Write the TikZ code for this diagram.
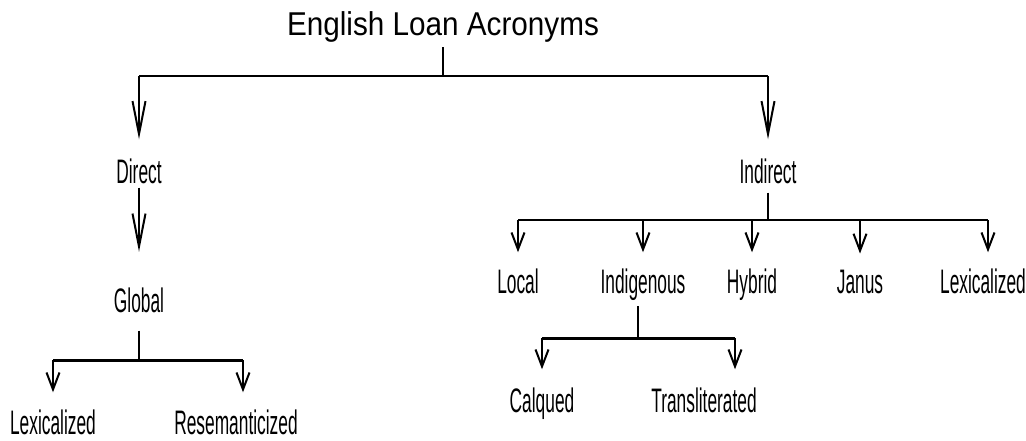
\documentclass[tikz,border=0pt]{standalone}
\usepackage{fontspec}
\setmainfont{Liberation Sans}
\newfontfamily\titlefont[FakeStretch=0.9]{Liberation Sans}
\newfontfamily\narrowfont[FakeStretch=0.51]{Liberation Sans}
\usetikzlibrary{arrows.meta}

\tikzset{
  heading/.style={font=\titlefont\fontsize{16.5}{17}\selectfont, inner sep=0pt, anchor=base},
  lab/.style={font=\narrowfont\fontsize{17}{17}\selectfont, inner sep=0pt, anchor=base},
  thin/.style={line width=1pt},
  thick/.style={line width=1.5pt},
  bigtip/.style={thin, -{Straight Barb[length=16.5pt,width=6.5pt]}},
  smalltip/.style={thin, -{Straight Barb[length=8.5pt,width=6.5pt]}}
}

\begin{document}
\begin{tikzpicture}[x=0.5pt,y=-0.5pt]
  \useasboundingbox (0,0) rectangle (1026,440);

  \node[heading] (elac) at (443,35) {English Loan Acronyms};

  \begin{scope}[every node/.style={lab}]
    \node (direct)   at (139,183) {Direct};
    \node (indirect) at (768,183) {Indirect};
    \node (global)   at (139,312) {Global};
    \node (lexa)     at (53,434)  {Lexicalized};
    \node (resem)    at (236,434) {Resemanticized};
    \node (local)    at (518,293) {Local};
    \node (indig)    at (643,293) {Indigenous};
    \node (hybrid)   at (752,293) {Hybrid};
    \node (janus)    at (860,293) {Janus};
    \node (lexb)     at (983,293) {Lexicalized};
    \node (calq)     at (542,412) {Calqued};
    \node (transl)   at (704,412) {Transliterated};
  \end{scope}

  % branch points
  \coordinate (top)   at (443,76);
  \coordinate (right) at (768,220);
  \coordinate (rightr) at (988,220);
  \coordinate (glob)  at (139,360);
  \coordinate (globr) at (243,360);
  \coordinate (indg)  at (638,338);
  \coordinate (indgr) at (735,338);

  % first level
  \draw[thin, shorten <=2.5pt] (elac.south) -- (top);
  \draw[thin] (direct |- top) -- (indirect |- top);
  \draw[bigtip, shorten >=9.35pt] (direct |- top) -- (direct.north);
  \draw[bigtip, shorten >=9.35pt] (indirect |- top) -- (indirect.north);

  % direct branch
  \draw[bigtip, shorten <=2pt, shorten >=17.6pt] (direct) -- (global);
  \draw[thin, shorten <=9pt] (global.south) -- (glob);
  \draw[thick] (lexa |- glob) -- (globr);
  \draw[smalltip, shorten >=8.35pt] (lexa |- glob) -- (lexa.north);
  \draw[smalltip, shorten >=8.35pt] (globr) -- (globr |- resem.north);

  % indirect branch
  \draw[thin, shorten <=4.5pt] (indirect.south) -- (right);
  \draw[thin] (local |- right) -- (rightr);
  \foreach \n in {local,indig,hybrid,janus}
    \draw[smalltip, shorten >=7.85pt] (\n |- right) -- (\n.north);
  \draw[smalltip, shorten >=7.85pt] (rightr) -- (rightr |- lexb.north);

  % indigenous
  \draw[thin, shorten <=3pt] (indg |- indig.south) -- (indg);
  \draw[thick] (calq |- indg) -- (indgr);
  \draw[smalltip, shorten >=8.85pt] (calq |- indg) -- (calq.north);
  \draw[smalltip, shorten >=8.85pt] (indgr) -- (indgr |- transl.north);

\end{tikzpicture}
\end{document}
